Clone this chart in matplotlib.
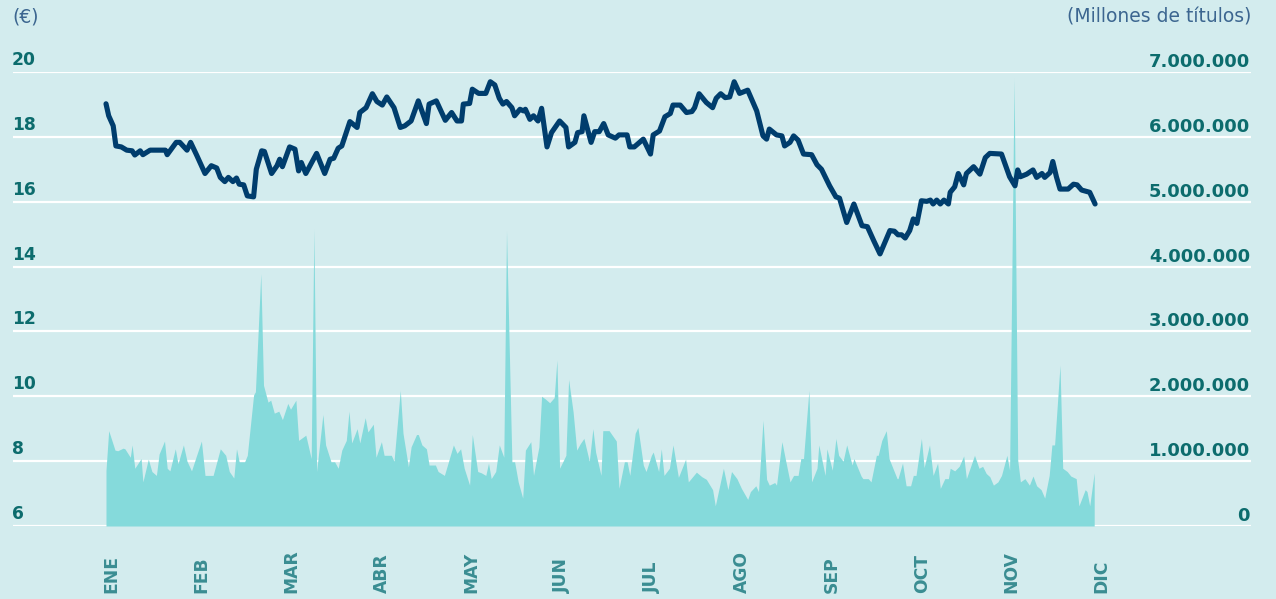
import matplotlib
matplotlib.use("Agg")
import matplotlib.pyplot as plt
import matplotlib.transforms as mtransforms

# Daily closing price (EUR); time axis in months since 1 January
price_t = [
    0.00, 0.03, 0.08, 0.11, 0.17, 0.23, 0.29, 0.32, 0.38, 0.41, 0.49, 0.66, 0.68, 0.78, 0.82, 0.90, 0.94,
    1.01, 1.10, 1.17, 1.23, 1.27, 1.32, 1.36, 1.41, 1.45, 1.48, 1.53, 1.57, 1.64, 1.67, 1.73, 1.76, 1.84, 1.90, 1.93, 1.96,
    2.04, 2.10, 2.14, 2.17, 2.22, 2.34, 2.43, 2.49, 2.53, 2.58, 2.62, 2.71, 2.79, 2.82, 2.89, 2.96,
    3.01, 3.07, 3.12, 3.20, 3.27, 3.32, 3.39, 3.47, 3.56, 3.59, 3.67, 3.77, 3.84, 3.90, 3.95, 3.97,
    4.04, 4.07, 4.14, 4.22, 4.27, 4.32, 4.37, 4.41, 4.45, 4.51, 4.54, 4.60, 4.64, 4.66, 4.71, 4.75, 4.80, 4.84, 4.90, 4.95,
    5.01, 5.04, 5.11, 5.14, 5.21, 5.24, 5.29, 5.31, 5.39, 5.43, 5.48, 5.53, 5.58, 5.66, 5.70, 5.79, 5.82, 5.87, 5.97,
    6.05, 6.08, 6.15, 6.21, 6.27, 6.30, 6.38, 6.45, 6.51, 6.54, 6.59, 6.67, 6.74, 6.78, 6.83, 6.88, 6.93, 6.98,
    7.04, 7.13, 7.23, 7.30, 7.34, 7.37, 7.45, 7.51, 7.54, 7.60, 7.64, 7.69, 7.75, 7.84, 7.90, 7.95,
    8.04, 8.11, 8.15, 8.23, 8.31, 8.40, 8.46, 8.53, 8.60, 8.71, 8.76, 8.80, 8.84, 8.88, 8.93, 8.97,
    9.01, 9.06, 9.12, 9.16, 9.19, 9.23, 9.27, 9.31, 9.36, 9.38, 9.43, 9.47, 9.53, 9.56, 9.64, 9.71, 9.77, 9.82, 9.95,
    10.04, 10.10, 10.13, 10.16, 10.23, 10.30, 10.34, 10.40, 10.43, 10.49, 10.52, 10.56, 10.60, 10.69, 10.75, 10.79,
    10.84, 10.93, 10.99,
]
price = [
    19.02, 18.65, 18.34, 17.72, 17.69, 17.59, 17.57, 17.44, 17.57, 17.45, 17.59, 17.59, 17.45, 17.83, 17.83, 17.59, 17.83,
    17.42, 16.87, 17.11, 17.04, 16.75, 16.62, 16.75, 16.62, 16.73, 16.54, 16.52, 16.18, 16.15, 17.00, 17.57, 17.55, 16.87,
    17.11, 17.31, 17.08,
    17.69, 17.62, 16.95, 17.21, 16.87, 17.49, 16.87, 17.31, 17.34, 17.65, 17.72, 18.47, 18.29, 18.75, 18.90, 19.33,
    19.09, 18.98, 19.23, 18.90, 18.29, 18.34, 18.49, 19.11, 18.41, 19.01, 19.11, 18.51, 18.75, 18.49, 18.49, 19.01,
    19.03, 19.47, 19.34, 19.34, 19.70, 19.60, 19.19, 19.01, 19.09, 18.90, 18.65, 18.85, 18.80, 18.85, 18.54, 18.65,
    18.49, 18.88, 17.69, 18.13,
    18.37, 18.49, 18.29, 17.69, 17.83, 18.13, 18.16, 18.65, 17.83, 18.16, 18.16, 18.41, 18.06, 17.96, 18.06, 18.06,
    17.69, 17.69, 17.93,
    17.47, 18.06, 18.18, 18.62, 18.72, 18.98, 18.98, 18.75, 18.78, 18.90, 19.33, 19.06, 18.90, 19.19, 19.33, 19.21,
    19.23, 19.70,
    19.34, 19.44, 18.80, 18.03, 17.93, 18.24, 18.06, 18.03, 17.72, 17.83, 18.03, 17.90, 17.47, 17.45, 17.14, 17.00,
    16.49, 16.15, 16.11, 15.36, 15.93, 15.26, 15.23, 14.80, 14.39, 15.11, 15.09, 14.98, 14.98, 14.88, 15.11, 15.47,
    15.33, 16.03, 16.01, 16.05, 15.93, 16.05, 15.93, 16.05, 15.93, 16.29, 16.46, 16.87, 16.52, 16.87, 17.08, 16.85,
    17.36, 17.49, 17.47,
    16.77, 16.49, 16.98, 16.77, 16.85, 16.98, 16.75, 16.87, 16.75, 16.90, 17.24, 16.77, 16.39, 16.39, 16.54, 16.52,
    16.36, 16.29, 15.93,
]

# Daily traded volume (millions of shares)
volume_t = [
    0.00, 0.03, 0.10, 0.13, 0.19, 0.21, 0.27, 0.29, 0.32, 0.39, 0.41, 0.47, 0.51, 0.56, 0.59, 0.65, 0.68, 0.71, 0.77,
    0.80, 0.86, 0.90, 0.95, 0.99,
    1.06, 1.10, 1.19, 1.27, 1.33, 1.37, 1.42, 1.45, 1.48, 1.54, 1.57, 1.64, 1.66, 1.72, 1.75, 1.80, 1.83, 1.87, 1.92, 1.96,
    2.02, 2.05, 2.11, 2.14, 2.22, 2.28, 2.31, 2.34, 2.41, 2.44, 2.50, 2.54, 2.58, 2.62, 2.67, 2.70, 2.73, 2.79, 2.82,
    2.88, 2.91, 2.97,
    3.00, 3.06, 3.09, 3.17, 3.20, 3.27, 3.30, 3.36, 3.39, 3.45, 3.47, 3.51, 3.56, 3.59, 3.66, 3.69, 3.76, 3.86, 3.90,
    3.94, 3.98,
    4.04, 4.07, 4.13, 4.17, 4.22, 4.25, 4.28, 4.33, 4.37, 4.42, 4.45, 4.51, 4.54, 4.58, 4.63, 4.66, 4.72, 4.75, 4.81,
    4.84, 4.88, 4.93, 4.98,
    5.01, 5.04, 5.11, 5.14, 5.19, 5.23, 5.27, 5.31, 5.37, 5.41, 5.44, 5.50, 5.52, 5.59, 5.67, 5.70, 5.76, 5.79, 5.82,
    5.88, 5.91, 5.97,
    6.00, 6.06, 6.08, 6.14, 6.17, 6.20, 6.26, 6.30, 6.36, 6.44, 6.47, 6.56, 6.62, 6.67, 6.74, 6.77, 6.86, 6.91, 6.95,
    7.01, 7.06, 7.13, 7.16, 7.22, 7.25, 7.30, 7.34, 7.37, 7.43, 7.45, 7.51, 7.55, 7.60, 7.64, 7.69, 7.72, 7.75, 7.81,
    7.84, 7.90, 7.92, 7.99,
    8.01, 8.07, 8.11, 8.14, 8.19, 8.23, 8.29, 8.31, 8.39, 8.41, 8.47, 8.50, 8.56, 8.58, 8.62, 8.67, 8.70, 8.79, 8.80,
    8.85, 8.89, 8.94, 8.97, 9.00,
    9.06, 9.09, 9.15, 9.19, 9.24, 9.27, 9.32, 9.36, 9.38, 9.43, 9.48, 9.53, 9.56, 9.65, 9.70, 9.74, 9.78, 9.82, 9.86,
    9.91, 9.95,
    10.01, 10.04, 10.09, 10.13, 10.16, 10.21, 10.26, 10.30, 10.34, 10.39, 10.43, 10.48, 10.51, 10.54, 10.60, 10.63,
    10.68, 10.72, 10.78, 10.81, 10.88, 10.90, 10.93, 10.98,
]
volume = [
    0.86, 1.47, 1.17, 1.16, 1.20, 1.19, 1.06, 1.25, 0.89, 1.04, 0.68, 1.03, 0.84, 0.78, 1.11, 1.31, 0.89, 0.85, 1.19,
    0.96, 1.25, 1.00, 0.85, 1.02,
    1.31, 0.78, 0.78, 1.19, 1.09, 0.84, 0.74, 1.19, 0.99, 0.99, 1.09, 2.02, 2.07, 3.89, 2.17, 1.91, 1.94, 1.74, 1.77, 1.64,
    1.89, 1.80, 1.94, 1.32, 1.40, 1.04, 4.58, 0.84, 1.72, 1.25, 0.99, 0.99, 0.89, 1.17, 1.32, 1.77, 1.28, 1.50, 1.28,
    1.67, 1.45, 1.57,
    1.06, 1.30, 1.09, 1.09, 1.00, 2.09, 1.43, 0.91, 1.22, 1.41, 1.41, 1.25, 1.19, 0.94, 0.94, 0.84, 0.78, 1.25, 1.12,
    1.19, 0.89,
    0.63, 1.41, 0.84, 0.82, 0.78, 0.97, 0.73, 0.84, 1.25, 1.06, 4.55, 0.99, 0.99, 0.68, 0.43, 1.17, 1.30, 0.78, 1.22,
    2.00, 1.96, 1.90, 1.98,
    2.56, 0.89, 1.09, 2.26, 1.76, 1.17, 1.27, 1.35, 1.00, 1.50, 1.14, 0.78, 1.47, 1.47, 1.31, 0.58, 0.99, 0.99, 0.78,
    1.43, 1.52, 0.94,
    0.84, 1.09, 1.14, 0.84, 1.19, 0.78, 0.89, 1.25, 0.75, 1.03, 0.68, 0.83, 0.76, 0.72, 0.56, 0.31, 0.89, 0.56, 0.84,
    0.73, 0.58, 0.41, 0.53, 0.62, 0.53, 1.63, 0.72, 0.63, 0.67, 0.63, 1.30, 1.02, 0.68, 0.78, 0.78, 1.04, 1.04, 2.09,
    0.68, 0.89, 1.25, 0.78,
    1.19, 0.86, 1.35, 1.09, 1.00, 1.25, 0.94, 1.04, 0.77, 0.73, 0.73, 0.68, 1.09, 1.09, 1.32, 1.47, 1.04, 0.73, 0.73,
    0.97, 0.62, 0.62, 0.78, 0.78,
    1.35, 0.90, 1.25, 0.78, 0.97, 0.58, 0.73, 0.73, 0.89, 0.85, 0.92, 1.08, 0.73, 1.09, 0.89, 0.92, 0.81, 0.76, 0.63,
    0.68, 0.78,
    1.09, 0.86, 6.90, 1.02, 0.68, 0.73, 0.63, 0.77, 0.62, 0.56, 0.43, 0.78, 1.25, 1.25, 2.48, 0.89, 0.84, 0.77, 0.73,
    0.31, 0.56, 0.53, 0.31, 0.82,
]

months = ["ENE", "FEB", "MAR", "ABR", "MAY", "JUN", "JUL", "AGO", "SEP", "OCT", "NOV", "DIC"]
price_ticks = [6, 8, 10, 12, 14, 16, 18, 20]
volume_ticks = [0, 1, 2, 3, 4, 5, 6, 7]

BG = "#d3ecee"
FILL = "#85dadb"
LINE = "#003d6d"
TICK = "#0c6c6d"
MONTH = "#3a8d92"
HEAD = "#3c6690"

W, H = 1276, 599
fig = plt.figure(figsize=(W / 100, H / 100), dpi=100, facecolor=BG)
ax_vol = fig.add_axes([13 / W, 73 / H, 1238 / W, 454 / H])
ax_px = ax_vol.twinx()
ax_px.set_zorder(ax_vol.get_zorder() + 1)
ax_px.patch.set_visible(False)
ax_vol.set_facecolor(BG)

x_lo, x_hi = -93 / 90, 1145 / 90
for ax in (ax_vol, ax_px):
    ax.set_xlim(x_lo, x_hi)
    for s in ax.spines.values():
        s.set_visible(False)
    ax.set_xticks([])
    ax.set_yticks([])
ax_vol.set_ylim(0, 7)
ax_px.set_ylim(6, 20)

# white horizontal guides behind the volume area
for v in volume_ticks:
    ax_vol.axhline(v, color="white", lw=1.6, zorder=0)

ax_vol.fill_between(volume_t, volume, 0, color=FILL, lw=0, zorder=1)
ax_px.plot(price_t, price, color=LINE, lw=3.7, solid_joinstyle="round",
           solid_capstyle="round", clip_on=False, zorder=3)

# axis numbers sit just above their guide line
left_tr = mtransforms.offset_copy(
    mtransforms.blended_transform_factory(ax_px.transAxes, ax_px.transData),
    fig=fig, x=-1, y=7, units="dots")
for p in price_ticks:
    ax_px.text(0, p, str(p), transform=left_tr, ha="left", va="baseline",
               fontsize=12.3, fontweight="bold", color=TICK)

right_tr = mtransforms.offset_copy(
    mtransforms.blended_transform_factory(ax_vol.transAxes, ax_vol.transData),
    fig=fig, x=-1, y=5, units="dots")
for v in volume_ticks:
    label = f"{v * 1_000_000:,}".replace(",", ".")
    ax_vol.text(1, v, label, transform=right_tr, ha="right", va="baseline",
                fontsize=12.9, fontweight="bold", color=TICK)

month_tr = mtransforms.blended_transform_factory(ax_px.transData, fig.transFigure)
for k, m in enumerate(months):
    ax_px.text(k + 0.065, 6 / H, m, transform=month_tr, rotation=90,
               ha="center", va="bottom", fontsize=12.3, fontweight="bold",
               color=MONTH, clip_on=False)

fig.text(12 / W, 1 - 17 / H, "(€)", ha="left", va="center",
         fontsize=13.5, color=HEAD)
fig.text(1251 / W, 1 - 17 / H, "(Millones de títulos)", ha="right", va="center",
         fontsize=13.5, color=HEAD)

fig.savefig("out.png", dpi=100, facecolor=BG)
